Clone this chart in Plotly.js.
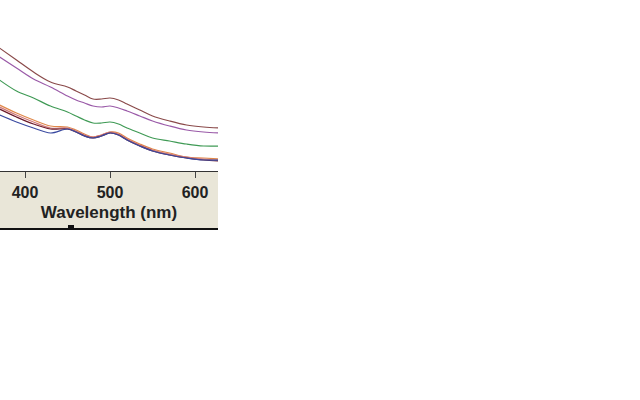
<!DOCTYPE html>
<html>
<head>
<meta charset="utf-8">
<script src="https://cdn.plot.ly/plotly-3.0.1.min.js"></script>
<style>
  html, body { margin: 0; padding: 0; background: #fff; }
  #chart { width: 640px; height: 400px; }
</style>
</head>
<body>
<div id="chart"></div>
<script>
// wavelength (nm)
const wavelength = [370, 390, 410, 430, 450, 460, 470, 480, 490, 500, 510, 520, 535, 550, 570, 590, 610, 630];

// absorbance (arbitrary units)
const brown  = [1.23, 1.11, 0.99, 0.89, 0.84, 0.80, 0.76, 0.72, 0.72, 0.73, 0.71, 0.67, 0.61, 0.55, 0.50, 0.46, 0.44, 0.43];
const purple = [1.14, 1.03, 0.92, 0.84, 0.75, 0.71, 0.68, 0.65, 0.64, 0.65, 0.63, 0.60, 0.55, 0.50, 0.45, 0.41, 0.39, 0.38];
const green  = [0.91, 0.80, 0.73, 0.65, 0.59, 0.55, 0.51, 0.48, 0.48, 0.49, 0.47, 0.43, 0.38, 0.33, 0.30, 0.27, 0.25, 0.25];
const orange = [0.66, 0.58, 0.51, 0.45, 0.44, 0.41, 0.37, 0.34, 0.36, 0.39, 0.38, 0.33, 0.27, 0.22, 0.18, 0.14, 0.13, 0.12];
const pink   = [0.64, 0.56, 0.49, 0.43, 0.43, 0.40, 0.36, 0.34, 0.36, 0.39, 0.37, 0.32, 0.26, 0.21, 0.17, 0.14, 0.12, 0.11];
const maroon = [0.62, 0.54, 0.47, 0.42, 0.42, 0.39, 0.35, 0.33, 0.35, 0.38, 0.36, 0.31, 0.25, 0.20, 0.16, 0.13, 0.11, 0.10];
const blue   = [0.56, 0.49, 0.43, 0.38, 0.42, 0.39, 0.35, 0.33, 0.35, 0.38, 0.36, 0.31, 0.25, 0.20, 0.16, 0.13, 0.11, 0.11];

const series = [
    {y: brown,  color: "#8a4a4a"},
    {y: purple, color: "#9a5aa8"},
    {y: green,  color: "#3f9a55"},
    {y: orange, color: "#e0884a"},
    {y: pink,   color: "#d07878"},
    {y: maroon, color: "#6a1a2a"},
    {y: blue,   color: "#3a4aa0"},
];

let data = [];
series.forEach(function(s) {
    data.push({
        x: wavelength,
        y: s.y,
        type: "scatter",
        mode: "lines",
        line: {color: s.color, width: 1.2, shape: "spline", smoothing: 1},
        hoverinfo: "skip",
    });
});

const bandBottom = -58 / 171;

let layout = {
    width: 640,
    height: 400,
    margin: {l: 0, r: 422, t: 0, b: 229, pad: 0},
    paper_bgcolor: "#ffffff",
    plot_bgcolor: "#ffffff",
    showlegend: false,
    font: {family: "Liberation Sans, Arial, sans-serif", color: "#222"},
    xaxis: {
        range: [370.6, 627],
        tickvals: [400, 500, 600],
        ticks: "outside",
        ticklen: 6,
        tickcolor: "#444",
        showline: true,
        linecolor: "#333",
        linewidth: 1,
        showgrid: false,
        zeroline: false,
        ticklabelstandoff: 1,
        tickfont: {size: 16, family: "Liberation Sans, Arial, sans-serif", weight: "bold", color: "#222"},
        title: {
            text: "<b>Wavelength (nm)</b>",
            font: {size: 17, color: "#222"},
            standoff: 5,
        },
        automargin: false,
    },
    yaxis: {
        range: [0, 1.71],
        visible: false,
        fixedrange: true,
    },
    shapes: [
        {type: "rect", xref: "paper", yref: "paper", x0: 0, x1: 1, y0: bandBottom, y1: 0,
         fillcolor: "#e9e6d8", line: {width: 0}, layer: "below"},
        {type: "line", xref: "paper", yref: "paper", x0: 0, x1: 1, y0: bandBottom, y1: bandBottom,
         line: {color: "#111", width: 2}},
        {type: "rect", xref: "paper", yref: "paper", x0: 68 / 218, x1: 74 / 218,
         y0: bandBottom - 1 / 171, y1: bandBottom + 4 / 171,
         fillcolor: "#111", line: {width: 0}},
    ],
};

Plotly.newPlot("chart", data, layout, {staticPlot: true, displayModeBar: false});
</script>
</body>
</html>
